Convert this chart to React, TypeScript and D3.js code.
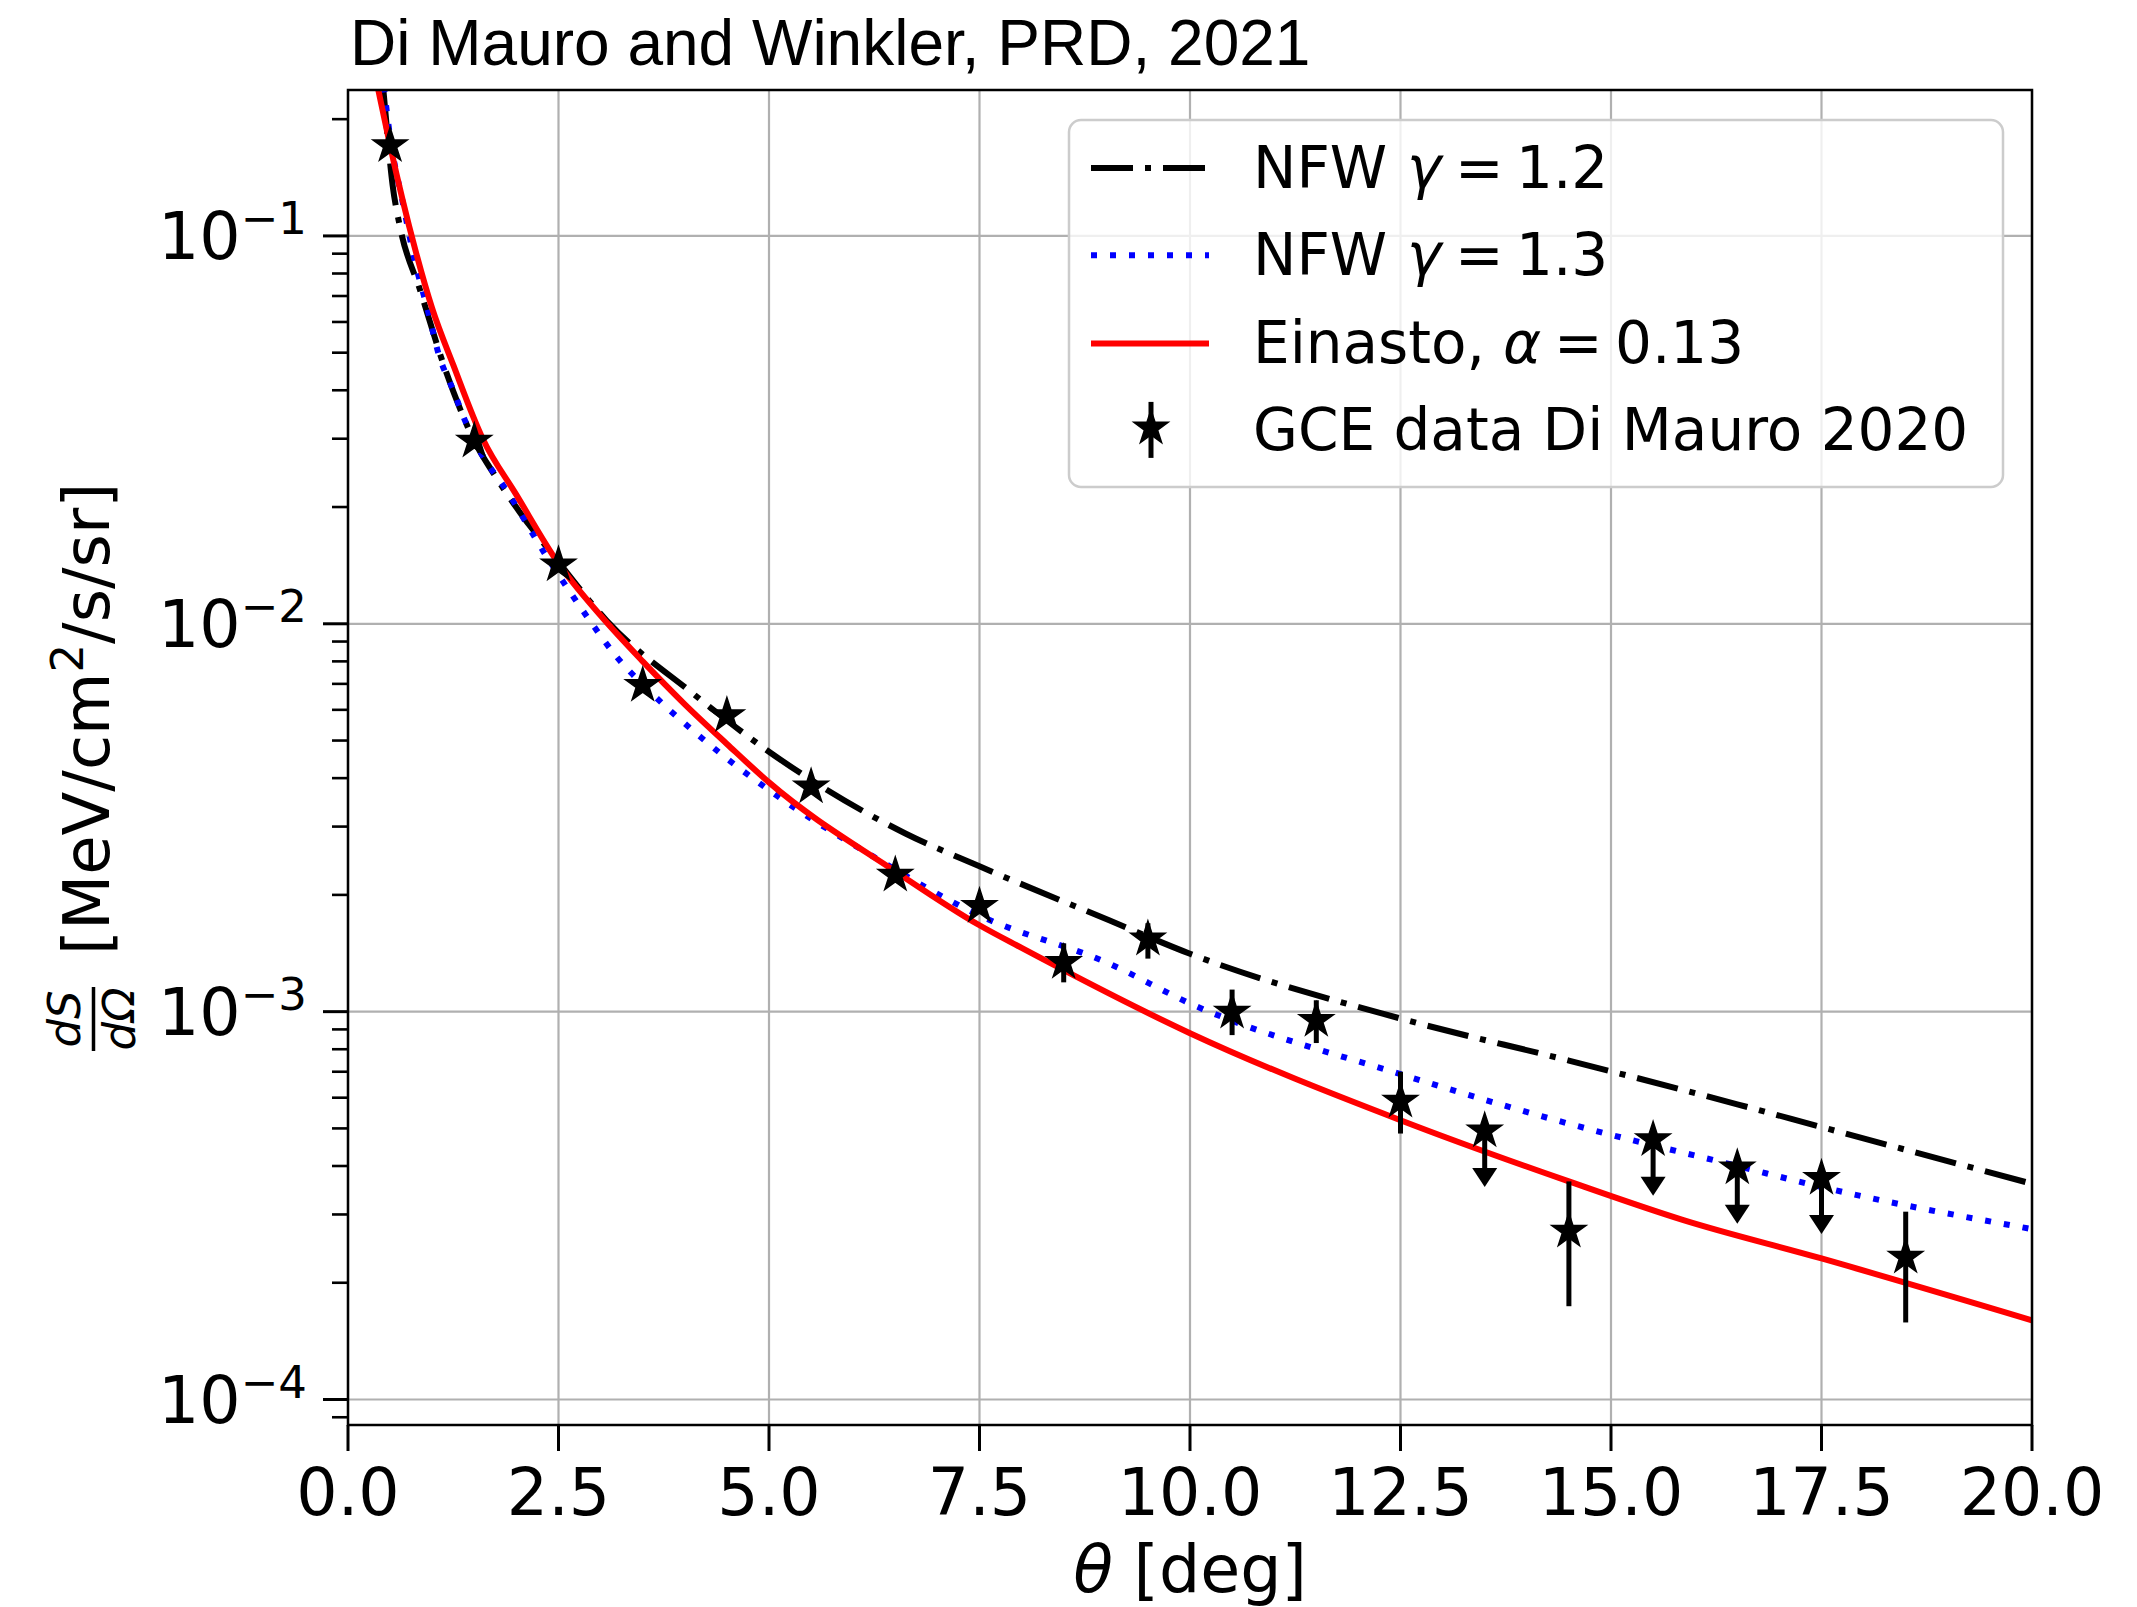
import React from 'react';
import * as d3 from 'd3';

const TITLE = 'Di Mauro and Winkler, PRD, 2021';
const X_TICKS = [0, 2.5, 5, 7.5, 10, 12.5, 15, 17.5, 20];
const X_TICK_LABELS = ['0.0', '2.5', '5.0', '7.5', '10.0', '12.5', '15.0', '17.5', '20.0'];
const Y_DECADES = [-1, -2, -3, -4];
const Y_DECADE_LABELS = ['\u22121', '\u22122', '\u22123', '\u22124'];

// NFW gamma = 1.2 (black dash-dot)
const NFW12_THETA = [0.34, 0.42, 0.53, 0.617, 0.855, 1.17, 1.54, 1.73, 2.04, 2.45, 3.07, 4.1, 5.0, 6.62, 7.5, 9.04, 10.0, 12.5, 14.5, 16.5, 17.5, 20.0];
const NFW12_VAL = [0.36, 0.238, 0.135, 0.1056, 0.0726, 0.0443, 0.0285, 0.0244, 0.0194, 0.0149, 0.0102, 0.0066, 0.00468, 0.00288, 0.00237, 0.00172, 0.00141, 0.00096, 0.000748, 0.000577, 0.000504, 0.00036];

// NFW gamma = 1.3 (blue dotted)
const NFW13_THETA = [0.35, 0.43, 0.5, 0.657, 0.8, 0.934, 1.085, 1.25, 1.4, 1.65, 1.81, 2.36, 2.86, 3.19, 3.54, 4.18, 5.05, 6.24, 7.5, 9.04, 10.0, 12.5, 14.5, 16.5, 17.5, 20.0];
const NFW13_VAL = [0.34, 0.238, 0.18, 0.12, 0.085, 0.066, 0.0489, 0.04, 0.033, 0.026, 0.0233, 0.0149, 0.01028, 0.00822, 0.00684, 0.00512, 0.00366, 0.00251, 0.00177, 0.00133, 0.00105, 0.00069, 0.000514, 0.0004, 0.000353, 0.000275];

// Einasto alpha = 0.13 (red solid)
const EIN_THETA = [0.3, 0.36, 0.5, 0.8, 1.0, 1.25, 1.6, 2.0, 2.5, 3.0, 3.5, 4.0, 4.5, 5.0, 6.5, 7.5, 8.0, 10.0, 12.5, 14.5, 15.86, 17.5, 20.0];
const EIN_VAL = [0.275, 0.238, 0.171, 0.092, 0.065, 0.0465, 0.03, 0.0215, 0.0143, 0.0105, 0.008, 0.0062, 0.0049, 0.0039, 0.0023, 0.00167, 0.00146, 0.00088, 0.000525, 0.000365, 0.00029, 0.000231, 0.00016];

// GCE data Di Mauro 2020
const DATA_THETA = [0.5, 1.5, 2.5, 3.5, 4.5, 5.5, 6.5, 7.5, 8.5, 9.5, 10.5, 11.5, 12.5, 13.5, 14.5, 15.5, 16.5, 17.5, 18.5];
const DATA_VAL = [0.171, 0.0296, 0.0142, 0.00694, 0.0058, 0.0038, 0.00225, 0.00187, 0.00134, 0.00154, 0.000998, 0.00095, 0.000588, 0.000493, 0.000272, 0.000468, 0.000396, 0.000372, 0.000233];
const DATA_LO = [0.171, 0.0296, 0.0142, 0.00694, 0.0058, 0.0038, 0.00225, 0.00187, 0.00119, 0.00137, 0.00087, 0.00083, 0.000485, 0.000353, 0.000174, 0.000335, 0.000284, 0.000267, 0.000158];
const DATA_HI = [0.171, 0.0296, 0.0142, 0.00694, 0.0058, 0.0038, 0.00225, 0.00187, 0.0015, 0.00169, 0.00114, 0.00107, 0.0007, 0.000493, 0.000365, 0.000468, 0.000396, 0.000372, 0.000305];
const DATA_UPPER_LIMIT = [false, false, false, false, false, false, false, false, false, false, false, false, false, true, false, true, true, true, false];

const LEGEND_LABELS = ['NFW', 'NFW', 'Einasto,', 'GCE data Di Mauro 2020'];

const W = 2137;
const H = 1607;
const L = 348, R = 2032, T = 90, B = 1425;

function starPath(cx: number, cy: number, r: number): string {
  const ri = r * 0.381966;
  const pts: string[] = [];
  for (let i = 0; i < 10; i++) {
    const a = -Math.PI / 2 + (i * Math.PI) / 5;
    const rr = i % 2 === 0 ? r : ri;
    pts.push(`${(cx + rr * Math.cos(a)).toFixed(2)},${(cy + rr * Math.sin(a)).toFixed(2)}`);
  }
  return 'M' + pts.join('L') + 'Z';
}

export default function App() {
  const x = d3.scaleLinear().domain([0, 20]).range([L, R]);
  const y = d3.scaleLog().domain([8.596e-5, 0.2378]).range([B, T]);

  const line = d3
    .line<[number, number]>()
    .x((d) => x(d[0]))
    .y((d) => y(d[1]))
    .curve(d3.curveMonotoneX);

  const mk = (th: number[], v: number[]) => line(th.map((t, i) => [t, v[i]] as [number, number])) || '';

  const minor: number[] = [];
  for (let dec = -5; dec <= -1; dec++) {
    for (let k = 2; k <= 9; k++) {
      const v = k * Math.pow(10, dec);
      if (v >= 8.596e-5 && v <= 0.2378) minor.push(v);
    }
  }

  const font = 'DejaVu Sans, Verdana, sans-serif';
  const tickFs = 65;
  const legFs = 58;
  const lw = 6;

  const legX = 1069, legY = 120, legW = 934, legH = 367;
  const rowBase = (i: number) => 188 + i * 87.3;
  const hx0 = 1091, hx1 = 1209;

  return (
    <svg
      width={W}
      height={H}
      viewBox={`0 0 ${W} ${H}`}
      style={{ position: 'absolute', left: 0, top: 0, background: '#fff' }}
      xmlns="http://www.w3.org/2000/svg"
    >
      <defs>
        <clipPath id="plotclip">
          <rect x={L} y={T} width={R - L} height={B - T} />
        </clipPath>
      </defs>
      <rect x={0} y={0} width={W} height={H} fill="#fff" />

      {/* Title */}
      <text x={350} y={65} fontFamily="Liberation Sans, Arial, sans-serif" fontSize={64} fill="#000">
        {TITLE}
      </text>

      {/* Grid */}
      <g stroke="#b0b0b0" strokeWidth={2.2}>
        {X_TICKS.map((t, i) => (
          <line key={'gx' + i} x1={x(t)} x2={x(t)} y1={T} y2={B} />
        ))}
        {Y_DECADES.map((d, i) => (
          <line key={'gy' + i} x1={L} x2={R} y1={y(Math.pow(10, d))} y2={y(Math.pow(10, d))} />
        ))}
      </g>

      {/* Curves */}
      <g clipPath="url(#plotclip)" fill="none">
        <path d={mk(NFW12_THETA, NFW12_VAL)} stroke="#000" strokeWidth={lw} strokeDasharray="42,12,6,12" />
        <path d={mk(NFW13_THETA, NFW13_VAL)} stroke="#0000ff" strokeWidth={lw} strokeDasharray="6,13" />
        <path d={mk(EIN_THETA, EIN_VAL)} stroke="#ff0000" strokeWidth={lw} />
      </g>

      {/* Data */}
      <g clipPath="url(#plotclip)">
        {DATA_THETA.map((t, i) => {
          const cx = x(t);
          const cy = y(DATA_VAL[i]);
          const els: React.ReactNode[] = [];
          if (DATA_UPPER_LIMIT[i]) {
            const tip = y(DATA_LO[i]);
            els.push(<line key="l" x1={cx} x2={cx} y1={cy} y2={tip - 10} stroke="#000" strokeWidth={5} />);
            els.push(
              <path key="a" d={`M${cx - 12.5},${tip - 19}L${cx + 12.5},${tip - 19}L${cx},${tip}Z`} fill="#000" />
            );
          } else if (DATA_HI[i] !== DATA_LO[i]) {
            els.push(
              <line key="l" x1={cx} x2={cx} y1={y(DATA_HI[i])} y2={y(DATA_LO[i])} stroke="#000" strokeWidth={5} />
            );
          }
          els.push(<path key="s" d={starPath(cx, cy, 18)} fill="#000" stroke="#000" strokeWidth={1.5} strokeLinejoin="miter" />);
          return <g key={'d' + i}>{els}</g>;
        })}
      </g>

      {/* Spines */}
      <rect x={L} y={T} width={R - L} height={B - T} fill="none" stroke="#000" strokeWidth={2.5} />

      {/* X ticks */}
      <g>
        {X_TICKS.map((t, i) => (
          <g key={'xt' + i}>
            <line x1={x(t)} x2={x(t)} y1={B} y2={B + 26} stroke="#000" strokeWidth={3} />
            <text x={x(t)} y={1515} textAnchor="middle" fontFamily={font} fontSize={tickFs} fill="#000">
              {X_TICK_LABELS[i]}
            </text>
          </g>
        ))}
      </g>

      {/* Y ticks */}
      <g>
        {minor.map((v, i) => (
          <line key={'ym' + i} x1={L - 16} x2={L} y1={y(v)} y2={y(v)} stroke="#000" strokeWidth={2.6} />
        ))}
        {Y_DECADES.map((d, i) => {
          const yy = y(Math.pow(10, d));
          return (
            <g key={'yt' + i}>
              <line x1={L - 25} x2={L} y1={yy} y2={yy} stroke="#000" strokeWidth={3} />
              <text x={307} y={yy + 23.5} textAnchor="end" fontFamily={font} fontSize={tickFs} fill="#000">
                <tspan>10</tspan>
                <tspan fontSize={45} dy={-25}>
                  {Y_DECADE_LABELS[i]}
                </tspan>
              </text>
            </g>
          );
        })}
      </g>

      {/* X label */}
      <text x={1190} y={1592} textAnchor="middle" fontFamily={font} fontSize={65} fill="#000">
        <tspan fontStyle="italic">θ</tspan>
        <tspan> [deg]</tspan>
      </text>

      {/* Y label */}
      <g transform="translate(0,1051) rotate(-90)">
        <text x={32} y={80} textAnchor="middle" fontFamily={font} fontSize={45} fontStyle="italic" fill="#000">
          dS
        </text>
        <line x1={0} x2={64} y1={93.5} y2={93.5} stroke="#000" strokeWidth={3.5} />
        <text x={32} y={135} textAnchor="middle" fontFamily={font} fontSize={45} fontStyle="italic" fill="#000">
          dΩ
        </text>
        <text x={96} y={109} fontFamily={font} fontSize={64} fill="#000">
          <tspan>[MeV/cm</tspan>
          <tspan fontSize={45} dy={-26}>
            2
          </tspan>
          <tspan dy={26}>/s/sr]</tspan>
        </text>
      </g>

      {/* Legend */}
      <rect
        x={legX}
        y={legY}
        width={legW}
        height={legH}
        rx={12}
        ry={12}
        fill="#fff"
        fillOpacity={0.8}
        stroke="#cccccc"
        strokeWidth={2.5}
      />
      <g fontFamily={font} fontSize={legFs} fill="#000">
        <line x1={hx0} x2={hx1} y1={rowBase(0) - 20} y2={rowBase(0) - 20} stroke="#000" strokeWidth={lw} strokeDasharray="42,12,6,12" />
        <text x={1253} y={rowBase(0)}>
          <tspan>{LEGEND_LABELS[0]}</tspan>
          <tspan x={1407} fontStyle="italic">γ</tspan>
          <tspan x={1455}>=</tspan>
          <tspan x={1516}>1.2</tspan>
        </text>

        <line x1={hx0} x2={hx1} y1={rowBase(1) - 20} y2={rowBase(1) - 20} stroke="#0000ff" strokeWidth={lw} strokeDasharray="6,13" />
        <text x={1253} y={rowBase(1)}>
          <tspan>{LEGEND_LABELS[1]}</tspan>
          <tspan x={1407} fontStyle="italic">γ</tspan>
          <tspan x={1455}>=</tspan>
          <tspan x={1516}>1.3</tspan>
        </text>

        <line x1={hx0} x2={hx1} y1={rowBase(2) - 19} y2={rowBase(2) - 19} stroke="#ff0000" strokeWidth={lw} />
        <text x={1253} y={rowBase(2)}>
          <tspan>{LEGEND_LABELS[2]}</tspan>
          <tspan x={1503} fontStyle="italic">α</tspan>
          <tspan x={1554}>=</tspan>
          <tspan x={1615}>0.13</tspan>
        </text>

        <line x1={1151} x2={1151} y1={rowBase(3) - 48} y2={rowBase(3) + 8} stroke="#000" strokeWidth={5} />
        <path d={starPath(1151, rowBase(3) - 22, 18)} fill="#000" stroke="#000" strokeWidth={1.5} />
        <text x={1253} y={rowBase(3)}>{LEGEND_LABELS[3]}</text>
      </g>
    </svg>
  );
}
